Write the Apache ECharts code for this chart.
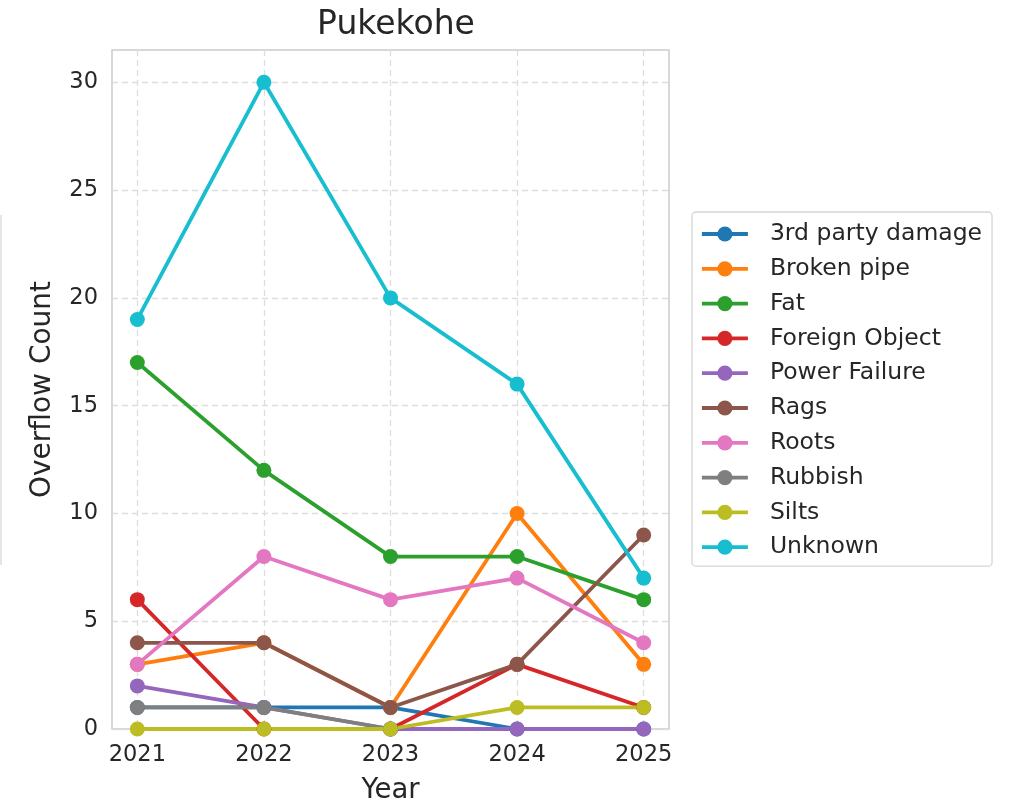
<!DOCTYPE html>
<html><head><meta charset="utf-8">
<script src="https://cdn.jsdelivr.net/npm/echarts@6/dist/echarts.min.js"></script>
<style>html,body{margin:0;padding:0;background:#fff}#c{width:1016px;height:808px}</style>
</head><body><div id="c"></div>
<script>
const years = [2021, 2022, 2023, 2024, 2025];
const seriesNames = ['3rd party damage','Broken pipe','Fat','Foreign Object','Power Failure','Rags','Roots','Rubbish','Silts','Unknown'];
const thirdParty = [1, 1, 1, 0, 0];
const brokenPipe = [3, 4, 1, 10, 3];
const fat = [17, 12, 8, 8, 6];
const foreignObject = [6, 0, 0, 3, 1];
const powerFailure = [2, 1, 0, 0, 0];
const rags = [4, 4, 1, 3, 9];
const roots = [3, 8, 6, 7, 4];
const rubbish = [1, 1, 0, null, null];
const silts = [0, 0, 0, 1, 1];
const unknown = [19, 30, 20, 16, 7];
const yTicks = [0, 5, 10, 15, 20, 25, 30];
const colors = ['#1f77b4','#ff7f0e','#2ca02c','#d62728','#9467bd','#8c564b','#e377c2','#7f7f7f','#bcbd22','#17becf'];
const allValues = [thirdParty, brokenPipe, fat, foreignObject, powerFailure, rags, roots, rubbish, silts, unknown];

const FONT = 'DejaVu Sans';
const chart = echarts.init(document.getElementById('c'), null, {renderer: 'canvas'});
const series = seriesNames.map((n, i) => ({
  name: n, type: 'line',
  data: years.map((y, j) => [y, allValues[i][j]]),
  symbol: 'circle', symbolSize: 15,
  lineStyle: {width: 3.8, color: colors[i]},
  itemStyle: {color: colors[i]},
  emphasis: {disabled: true},
  clip: false,
  animation: false
}));
chart.setOption({
  animation: false,
  color: colors,
  title: {text: 'Pukekohe', left: 391, textAlign: 'center', top: 4,
    textStyle: {fontFamily: FONT, fontSize: 33, fontWeight: 'normal', color: '#262626'}},
  grid: {left: 112, right: 347, top: 50, bottom: 79, show: true, borderColor: '#cccccc', borderWidth: 1.5,
    containLabel: false, outerBoundsMode: 'none'},
  xAxis: {type: 'value', min: 2020.8, max: 2025.2,
    name: 'Year', nameLocation: 'middle', nameGap: 48,
    nameTextStyle: {fontFamily: FONT, fontSize: 27.5, color: '#262626'},
    axisLine: {show: false},
    axisTick: {show: false, customValues: years},
    axisLabel: {customValues: years, formatter: v => String(v), fontFamily: FONT, fontSize: 22.5, color: '#262626', margin: 15},
    splitLine: {show: true, lineStyle: {color: '#dddddd', type: [6, 4], width: 1.3}}
  },
  yAxis: {type: 'value', min: 0, max: 31.5,
    name: 'Overflow Count', nameLocation: 'middle', nameGap: 55,
    nameTextStyle: {fontFamily: FONT, fontSize: 28, color: '#262626'},
    axisLine: {show: false},
    axisTick: {show: false, customValues: yTicks},
    axisLabel: {customValues: yTicks, fontFamily: FONT, fontSize: 22.5, color: '#262626', margin: 14},
    splitLine: {show: true, lineStyle: {color: '#dddddd', type: [6, 4], width: 1.3}}
  },
  legend: {
    orient: 'vertical', left: 692, top: 212,
    data: seriesNames,
    itemWidth: 46, itemHeight: 19, itemGap: 10.8,
    padding: [10, 10, 7, 8],
    lineStyle: {width: 3.8},
    borderColor: '#d5d5d5', borderWidth: 1.3, borderRadius: 4,
    backgroundColor: '#ffffff',
    textStyle: {fontFamily: FONT, fontSize: 23.5, color: '#262626', lineHeight: 23, padding: [0, 0, 0, 17]},
    selectedMode: false
  },
  graphic: [{type: 'line', shape: {x1: 1, y1: 215, x2: 1, y2: 565}, style: {stroke: '#dddddd', lineWidth: 1.5}}],
  series: series
});
</script></body></html>
